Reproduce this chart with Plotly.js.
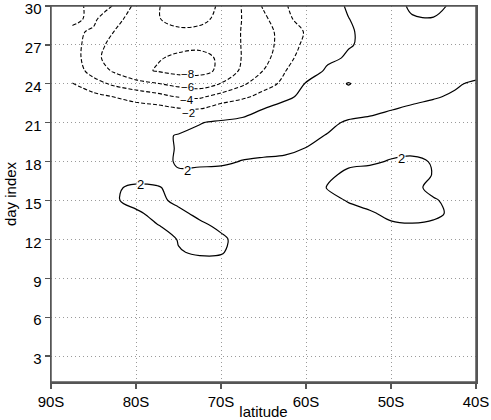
<!DOCTYPE html>
<html>
<head>
<meta charset="utf-8">
<script src="https://cdn.plot.ly/plotly-3.0.1.min.js"></script>
<style>html,body{margin:0;padding:0;background:#fff;overflow:hidden;}#chart{width:491px;height:420px;}</style>
</head>
<body>
<div id="chart"></div>
<script>
// latitude grid (degrees, negative = south)
const lats = [-87.5,-85,-82.5,-80,-77.5,-75,-72.5,-70,-67.5,-65,-62.5,-60,-57.5,-55,-52.5,-50,-47.5,-45,-42.5,-40];
// day index grid
const days = [1,2,3,4,5,6,7,8,9,10,11,12,13,14,15,16,17,18,19,20,21,22,23,24,25,26,27,28,29,30];

// field values, one row per day (day 1 .. day 30)
const day01 = [-0.3,-0.3,-0.2,-0.1,-0.1,0.0,0.0,0.0,0.0,-0.1,-0.1,-0.1,-0.1,-0.1,-0.1,-0.1,-0.1,-0.2,-0.1,-0.1];
const day02 = [-0.3,-0.2,-0.2,-0.1,0.0,0.0,0.1,0.1,0.0,0.0,0.0,-0.1,-0.1,-0.1,0.0,0.0,-0.1,-0.1,-0.1,-0.1];
const day03 = [-0.2,-0.2,-0.1,0.0,0.0,0.1,0.1,0.1,0.1,0.0,0.0,0.0,-0.1,0.0,0.0,0.0,0.0,-0.1,-0.1,0.0];
const day04 = [-0.2,-0.1,-0.1,0.0,0.1,0.1,0.2,0.2,0.1,0.1,0.1,0.0,0.0,0.0,0.0,0.1,0.0,0.0,0.0,0.0];
const day05 = [-0.1,-0.1,0.0,0.1,0.1,0.2,0.3,0.2,0.2,0.2,0.1,0.1,0.0,0.1,0.1,0.1,0.1,0.1,0.0,0.0];
const day06 = [-0.1,0.0,0.0,0.1,0.2,0.3,0.4,0.3,0.3,0.2,0.2,0.1,0.1,0.1,0.1,0.2,0.1,0.1,0.1,0.1];
const day07 = [0.0,0.0,0.1,0.2,0.3,0.4,0.5,0.5,0.4,0.3,0.2,0.2,0.1,0.2,0.2,0.2,0.2,0.2,0.2,0.1];
const day08 = [0.0,0.1,0.1,0.2,0.4,0.6,0.7,0.7,0.5,0.4,0.3,0.2,0.2,0.2,0.3,0.3,0.3,0.3,0.2,0.2];
const day09 = [0.1,0.1,0.2,0.3,0.5,0.8,1.0,0.9,0.7,0.5,0.4,0.3,0.3,0.3,0.3,0.4,0.4,0.4,0.3,0.3];
const day10 = [0.1,0.2,0.3,0.4,0.7,1.1,1.4,1.3,0.9,0.6,0.5,0.4,0.4,0.4,0.4,0.5,0.5,0.5,0.5,0.4];
const day11 = [0.2,0.2,0.3,0.5,0.9,1.9,2.2,2.15,1.2,0.8,0.6,0.5,0.5,0.5,0.6,0.7,0.8,0.8,0.7,0.6];
const day12 = [0.2,0.3,0.4,0.6,1.0,2.1,2.5,2.3,1.4,0.9,0.7,0.6,0.6,0.7,0.9,1.1,1.2,1.2,1.1,0.9];
const day13 = [0.3,0.4,0.6,1.0,1.9,2.5,2.4,1.7,1.1,0.8,0.7,0.8,0.9,1.1,1.4,1.7,1.8,1.7,1.4,1.1];
const day14 = [0.4,0.6,1.0,1.7,2.5,2.4,1.6,1.2,1.0,0.9,0.9,1.0,1.2,1.5,1.8,2.4,2.6,2.3,1.7,1.3];
const day15 = [0.5,0.8,1.8,2.6,2.4,1.6,1.3,1.1,1.0,1.0,1.0,1.2,1.5,2.1,2.6,2.8,2.7,2.1,1.7,1.3];
const day16 = [0.6,0.8,1.8,2.3,2.1,1.6,1.3,1.2,1.2,1.2,1.3,1.5,2.05,2.6,2.8,2.8,2.3,1.7,1.4,1.1];
const day17 = [0.7,0.8,1.0,1.2,1.4,1.8,1.3,1.2,1.2,1.3,1.4,1.5,1.8,2.2,2.5,2.6,2.5,1.95,1.5,1.1];
const day18 = [0.8,0.9,1.0,1.1,1.4,2.2,2.5,2.4,1.9,1.7,1.6,1.6,1.7,1.8,1.8,2.1,2.3,1.9,1.5,1.1];
const day19 = [0.9,0.9,0.9,0.9,1.2,2.2,2.7,2.8,2.8,2.6,2.4,1.95,1.7,1.6,1.6,1.6,1.6,1.5,1.2,0.9];
const day20 = [1.0,0.9,0.8,0.7,1.0,2.3,2.8,3.1,3.3,3.2,3.0,2.5,1.9,1.5,1.3,1.2,1.1,1.0,0.8,0.6];
const day21 = [0.8,0.5,0.2,-0.2,-0.3,0.0,1.85,2.6,3.2,3.4,3.3,3.1,2.5,1.7,1.3,1.0,0.8,0.6,0.4,0.3];
const day22 = [0.2,-0.3,-0.8,-1.2,-1.2,-1.7,-1.85,-0.9,0.2,2.2,3.0,3.2,3.2,3.0,2.7,2.05,1.6,1.2,0.9,0.6];
const day23 = [-0.8,-1.4,-2.05,-2.6,-3.3,-4.1,-4.3,-3.2,-2.5,-1.2,1.5,2.6,3.0,2.9,2.9,2.8,2.6,2.2,1.7,1.3];
const day24 = [-1.95,-3.2,-4.4,-5.3,-5.9,-6.6,-7.0,-5.9,-4.3,-2.9,-1.5,2.3,2.9,1.9,2.9,3.0,2.9,2.6,2.3,1.6];
const day25 = [-2.8,-4.8,-6.3,-7.6,-8.1,-8.6,-8.5,-7.7,-5.6,-3.95,-2.1,-0.3,2.6,3.0,3.0,3.0,2.9,2.8,2.9,3.0];
const day26 = [-3.0,-5.4,-7.0,-7.7,-7.9,-8.2,-8.4,-7.8,-5.9,-4.6,-2.8,-1.0,1.2,2.4,2.8,3.0,2.9,2.8,2.9,3.0];
const day27 = [-3.2,-5.0,-6.8,-7.5,-7.8,-7.7,-7.7,-7.4,-5.9,-4.8,-3.2,-1.5,0.3,1.8,2.6,2.9,2.8,2.7,2.8,3.0];
const day28 = [-3.7,-4.2,-6.1,-7.3,-7.8,-7.7,-7.6,-7.2,-5.9,-4.6,-3.4,-1.8,0.2,1.75,2.6,2.8,2.6,2.5,2.7,2.9];
const day29 = [-4.3,-3.7,-5.3,-7.0,-7.9,-8.5,-8.4,-7.6,-5.95,-4.4,-2.6,-1.0,0.7,1.95,2.9,2.6,2.1,2.05,2.4,2.7];
const day30 = [-4.8,-3.3,-4.1,-6.5,-7.9,-8.6,-8.6,-7.8,-5.9,-3.8,-2.2,-0.8,0.8,2.3,2.8,2.5,1.8,1.7,2.2,2.6];

// axis ticks
const xTickVals = [-90,-80,-70,-60,-50,-40];
const xTickText = ['90S','80S','70S','60S','50S','40S'];
const yTickVals = [3,6,9,12,15,18,21,24,27,30];

// contour label texts
const labelTexts = ['\u22128','\u22126','\u22124','\u22122','2','2','2'];

const z = [day01,day02,day03,day04,day05,day06,day07,day08,day09,day10,
           day11,day12,day13,day14,day15,day16,day17,day18,day19,day20,
           day21,day22,day23,day24,day25,day26,day27,day28,day29,day30];

const FONT = 'Liberation Sans, Arial, Helvetica, sans-serif';
const black = [[0,'#000'],[1,'#000']];

const negTrace = {
  type:'contour', x:lats, y:days, z:z,
  autocontour:false,
  contours:{coloring:'lines', start:-8, end:-2, size:2, showlabels:false},
  line:{width:1.1, dash:'4px,2px', smoothing:1},
  colorscale:black, showscale:false, hoverinfo:'skip'
};
const posTrace = {
  type:'contour', x:lats, y:days, z:z,
  autocontour:false,
  contours:{coloring:'lines', start:2, end:3, size:2, showlabels:false},
  line:{width:1.2, dash:'solid', smoothing:1},
  colorscale:black, showscale:false, hoverinfo:'skip'
};

// placement of the contour labels (text only)
const labelSpots = [[-74.0,24.74],[-74.0,23.72],[-74.0,22.72],[-73.8,21.72],[-73.9,17.35],[-79.5,16.2],[-48.8,18.25]];
const annotations = labelTexts.map((t,i) => ({
  x:labelSpots[i][0], y:labelSpots[i][1], xref:'x', yref:'y',
  text:t, showarrow:false, xanchor:'center', yanchor:'middle',
  font:{family:FONT, size:(i < 4 ? 11.5 : 13), color:'#000'}, bgcolor:'#fff', borderpad:0
}));

const axisCommon = {
  showgrid:true, gridcolor:'#9a9a9a', griddash:'1px,3px', gridwidth:1,
  showline:true, mirror:true, linecolor:'#555', linewidth:1.5,
  ticks:'outside', ticklen:5, tickcolor:'#555', tickwidth:1.2,
  zeroline:false, ticklabeloverflow:'allow',
  tickfont:{family:FONT, size:15, color:'#000'}
};

const layout = {
  width:491, height:420,
  margin:{l:51, r:15, t:6, b:38, pad:0},
  paper_bgcolor:'#fff', plot_bgcolor:'#fff',
  font:{family:FONT, size:15, color:'#000'},
  showlegend:false,
  annotations:annotations,
  shapes:[{type:'rect', xref:'paper', yref:'paper', x0:0, x1:1, y0:0, y1:1,
           line:{color:'#555', width:1.5}, fillcolor:'rgba(0,0,0,0)', layer:'above'}],
  xaxis:Object.assign({}, axisCommon, {
    range:[-90,-40], tickmode:'array', tickvals:xTickVals, ticktext:xTickText,
    title:{text:'latitude', font:{family:FONT, size:15, color:'#000'}, standoff:0}
  }),
  yaxis:Object.assign({}, axisCommon, {
    range:[1,30], tickmode:'array', tickvals:yTickVals, ticklabelshift:3,
    title:{text:'day index', font:{family:FONT, size:15, color:'#000'}, standoff:4}
  })
};

Plotly.newPlot('chart', [negTrace, posTrace], layout, {staticPlot:true, displayModeBar:false});
</script>
</body>
</html>
